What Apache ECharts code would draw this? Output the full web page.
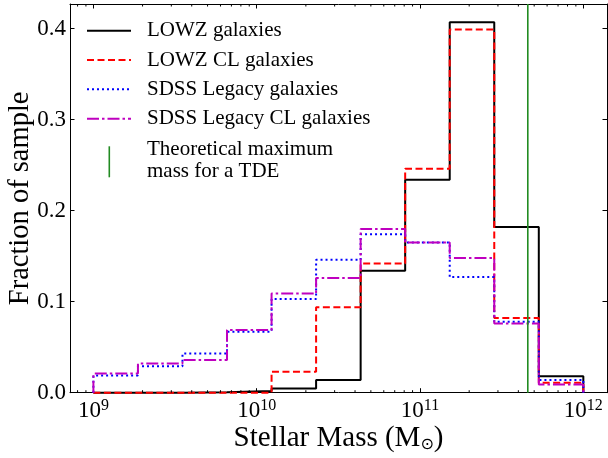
<!DOCTYPE html>
<html><head><meta charset="utf-8">
<script src="https://cdn.jsdelivr.net/npm/echarts@6/dist/echarts.min.js"></script>
<style>html,body{margin:0;padding:0;background:#fff}#c{width:608px;height:458px}</style>
</head><body><div id="c"></div>
<script>
// Histogram bin edges (stellar mass, M_sun), 11 bins
const binEdges = [1e9, 1.874e9, 3.511e9, 6.579e9, 1.233e10, 2.310e10, 4.329e10, 8.111e10, 1.520e11, 2.848e11, 5.337e11, 1e12];
// Fraction of sample per bin
const lowz    = [0, 0, 0.0005, 0.002, 0.0045, 0.014, 0.134, 0.234, 0.407, 0.182, 0.018];
const lowzCL  = [0, 0, 0, 0, 0.023, 0.094, 0.142, 0.246, 0.399, 0.082, 0.011];
const sdss    = [0.019, 0.029, 0.043, 0.067, 0.103, 0.146, 0.174, 0.165, 0.127, 0.078, 0.014];
const sdssCL  = [0.021, 0.032, 0.036, 0.069, 0.109, 0.126, 0.180, 0.165, 0.148, 0.076, 0.009];
const tdeMaxMass = 4.57e11;
const seriesNames = ['LOWZ galaxies', 'LOWZ CL galaxies', 'SDSS Legacy galaxies', 'SDSS Legacy CL galaxies', 'Theoretical maximum\nmass for a TDE'];
const minorTicks = [8e8, 9e8,
  2e9, 3e9, 4e9, 5e9, 6e9, 7e9, 8e9, 9e9,
  2e10, 3e10, 4e10, 5e10, 6e10, 7e10, 8e10, 9e10,
  2e11, 3e11, 4e11, 5e11, 6e11, 7e11, 8e11, 9e11];
const xMin = 7.19e8, xMax = 1.396e12;
const yMin = 0, yMax = 0.4271;

const FONT = '"Liberation Serif", "Times New Roman", serif';

function stepPath(edges, vals) {
  const pts = [[edges[0], 0]];
  for (let i = 0; i < vals.length; i++) {
    pts.push([edges[i], vals[i]]);
    pts.push([edges[i + 1], vals[i]]);
  }
  pts.push([edges[edges.length - 1], 0]);
  return pts;
}

const styles = [
  { color: '#000000', type: 'solid' },
  { color: '#ff0000', type: [7, 3.5] },
  { color: '#0000ff', type: [2, 3] },
  { color: '#bf00bf', type: [12, 3, 2.5, 3] }
];
const greenColor = '#228b22';
const dataSets = [lowz, lowzCL, sdss, sdssCL];

const series = dataSets.map((vals, i) => ({
  name: seriesNames[i],
  type: 'line',
  data: stepPath(binEdges, vals),
  showSymbol: false,
  symbol: 'none',
  clip: false,
  lineStyle: { color: styles[i].color, width: 2, type: styles[i].type },
  itemStyle: { color: styles[i].color },
  z: 3 + i,
  animation: false
}));
series.push({
  name: seriesNames[4],
  type: 'line',
  data: [[tdeMaxMass, yMin], [tdeMaxMass, yMax]],
  showSymbol: false, symbol: 'none',
  lineStyle: { color: greenColor, width: 1.6 },
  z: 8, animation: false
});
series.push({
  type: 'custom',
  silent: true,
  data: minorTicks.map(v => [v, 0]),
  encode: { x: 0, y: 1 },
  clip: false,
  z: 10,
  animation: false,
  renderItem: function (params, api) {
    const x = api.value(0);
    const pb = api.coord([x, yMin]);
    const pt = api.coord([x, yMax]);
    return { type: 'group', children: [
      { type: 'line', shape: { x1: pb[0], y1: pb[1], x2: pb[0], y2: pb[1] - 2.5 }, style: { stroke: '#000', lineWidth: 1 } },
      { type: 'line', shape: { x1: pt[0], y1: pt[1], x2: pt[0], y2: pt[1] + 2.5 }, style: { stroke: '#000', lineWidth: 1 } }
    ]};
  }
});

const axisLine = { show: true, onZero: false, lineStyle: { color: '#000', width: 1 } };
const majorTick = { show: true, inside: true, length: 4.5, lineStyle: { color: '#000', width: 1 } };

const option = {
  animation: false,
  backgroundColor: '#fff',
  grid: { left: 70, right: 1, top: 4, bottom: 65.3, containLabel: false, outerBoundsMode: 'none' },
  xAxis: [{
    type: 'log', min: xMin, max: xMax, logBase: 10,
    axisLine: axisLine, axisTick: majorTick, splitLine: { show: false },
    name: '{a|Stellar Mass (M}{s|⊙}{a|)}', nameLocation: 'middle', nameGap: 31, nameMoveOverlap: false,
    nameTextStyle: { rich: {
      a: { fontFamily: FONT, fontSize: 29, color: '#000' },
      s: { fontFamily: '"DejaVu Sans"', fontSize: 16, color: '#000', verticalAlign: 'bottom', padding: [9, 0, 0, 0] }
    } },
    axisLabel: {
      show: true, showMinLabel: false, showMaxLabel: false, margin: 5,
      formatter: function (v) {
        const n = Math.round(Math.log10(v));
        if (Math.abs(Math.log10(v) - n) > 1e-6) return '';
        return '{b|10}{e|' + n + '}';
      },
      rich: {
        b: { fontFamily: FONT, fontSize: 23, color: '#000', lineHeight: 27 },
        e: { fontFamily: FONT, fontSize: 16, color: '#000', verticalAlign: 'top', lineHeight: 16 }
      }
    }
  }, {
    type: 'log', min: xMin, max: xMax, logBase: 10, position: 'top',
    axisLine: axisLine, axisTick: majorTick, axisLabel: { show: false }, splitLine: { show: false }
  }],
  yAxis: [{
    type: 'value', min: yMin, max: yMax, interval: 0.1,
    axisLine: axisLine, axisTick: majorTick, splitLine: { show: false },
    axisLabel: { fontFamily: FONT, fontSize: 23, color: '#000', margin: 4, showMaxLabel: false,
      formatter: v => v.toFixed(1) },
    name: 'Fraction of sample', nameLocation: 'middle', nameGap: 35, nameMoveOverlap: false,
    nameTextStyle: { fontFamily: FONT, fontSize: 28.5, color: '#000' }
  }, {
    type: 'value', min: yMin, max: yMax, interval: 0.1, position: 'right',
    axisLine: axisLine, axisTick: majorTick, axisLabel: { show: false }, splitLine: { show: false }
  }],
  series: series,
  graphic: (function () {
    const els = [];
    const rowsY = [30.7, 60, 89.3, 118.8];
    for (let i = 0; i < 4; i++) {
      els.push({ type: 'line', silent: true, shape: { x1: 87, y1: rowsY[i], x2: 131, y2: rowsY[i] },
        style: { stroke: styles[i].color, lineWidth: 2, lineDash: styles[i].type === 'solid' ? null : styles[i].type } });
      els.push({ type: 'text', silent: true, x: 147, y: rowsY[i],
        style: { text: seriesNames[i], font: '21px ' + FONT, fill: '#000', verticalAlign: 'middle', align: 'left' } });
    }
    els.push({ type: 'line', silent: true, shape: { x1: 109.3, y1: 146.3, x2: 109.3, y2: 177.3 },
      style: { stroke: greenColor, lineWidth: 1.6 } });
    els.push({ type: 'text', silent: true, x: 147, y: 160.5,
      style: { text: seriesNames[4], font: '21px ' + FONT, lineHeight: 21.3, fill: '#000', verticalAlign: 'middle', align: 'left' } });
    return els;
  })()
};

const chart = echarts.init(document.getElementById('c'), null, { renderer: 'canvas' });
chart.setOption(option);
</script>
</body></html>
